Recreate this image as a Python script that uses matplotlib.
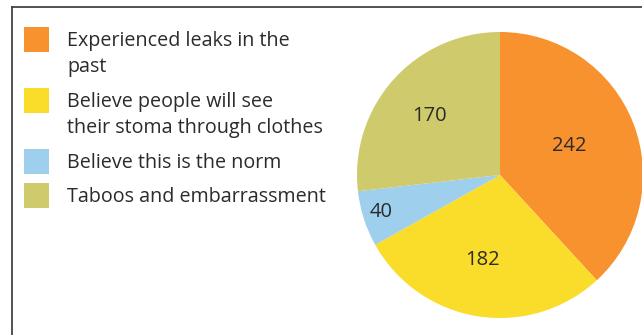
import numpy as np
import matplotlib.pyplot as plt
from matplotlib.lines import Line2D
from matplotlib.patches import Rectangle

# data
labels = ["Experienced leaks in the\npast",
          "Believe people will see\ntheir stoma through clothes",
          "Believe this is the norm",
          "Taboos and embarrassment"]
values = [242, 182, 40, 170]
colors = ["#F7922F", "#FADC2B", "#9ECFEC", "#CFCA6B"]

# layout bits (pixels)
W, H = 642, 335
label_r = [0.55, 0.60, 0.84, 0.62]
legend_rows = [46, 107, 168, 202]   # baseline of first text line per entry
line_gap = 26

plt.rcParams['font.family'] = ['Open Sans', 'DejaVu Sans']
txt_col = "#2b2b2b"

fig = plt.figure(figsize=(W/100, H/100), dpi=100)
fig.patch.set_facecolor("white")

def fx(x): return x / W
def fy(y): return 1 - y / H

# frame (left + top)
fig.add_artist(Line2D([fx(12), fx(12)], [fy(6.5), 0], color="#444444", lw=1.3))
fig.add_artist(Line2D([fx(12), 1], [fy(6.5), fy(6.5)], color="#444444", lw=1.3))

# pie
cx, cy, R = 500, 175, 143
ax = fig.add_axes([fx(cx - R), fy(cy + R), 2*R/W, 2*R/H])
wedges, _ = ax.pie(values, colors=colors, startangle=90, counterclock=False,
                   radius=1, wedgeprops=dict(linewidth=0))
ax.set_xlim(-1, 1)
ax.set_ylim(-1, 1)
ax.set_aspect("equal")
ax.axis("off")

for w, v, r in zip(wedges, values, label_r):
    ang = np.deg2rad((w.theta1 + w.theta2) / 2)
    ax.text(r*np.cos(ang) - 0.03, r*np.sin(ang), str(v), ha="center", va="center",
            fontsize=14.5, color=txt_col)

# legend
for lab, col, yrow in zip(labels, colors, legend_rows):
    fig.add_artist(Rectangle((fx(24), fy(yrow + 6)), 25/W, 25/H,
                             transform=fig.transFigure, facecolor=col, edgecolor="none"))
    for i, line in enumerate(lab.split("\n")):
        fig.text(fx(67), fy(yrow + i*line_gap), line, ha="left", va="baseline",
                 fontsize=14.2, color=txt_col)

fig.savefig("out.png", dpi=100)
